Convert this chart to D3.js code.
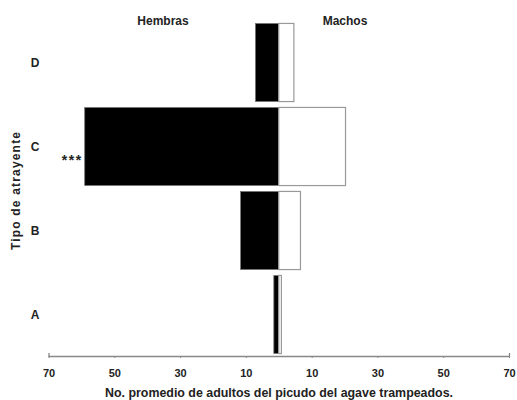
<!DOCTYPE html>
<html>
<head>
<meta charset="utf-8">
<script src="https://cdn.jsdelivr.net/npm/d3@7"></script>
<style>
  body { margin: 0; background: #fff; }
  text { font-family: "Liberation Sans", Arial, sans-serif; font-weight: bold; fill: #222; }
</style>
</head>
<body>
<div id="chart"></div>
<script>

  // categories, top to bottom
  var tipos = ["D", "C", "B", "A"];
  // mean adults trapped
  var hembras = [7.1, 59, 11.6, 1.5];
  var machos = [4.6, 20.3, 6.6, 0.8];
  var marcas = ["", "***", "", ""];
  var tickVals = [-70, -50, -30, -10, 10, 30, 50, 70];

  var width = 517, height = 400;

  var svg = d3.select("#chart")
    .append("svg")
    .attr("width", width)
    .attr("height", height);

  var x = d3.scaleLinear()
    .domain([-70, 70])
    .range([48.5, 509]);

  var y = d3.scaleBand()
    .domain(tipos)
    .range([20.5, 356.5])
    .paddingInner(0.07)
    .paddingOuter(0.035);

  var data = tipos.map(function(t, i) {
    return { tipo: t, h: hembras[i], m: machos[i], mark: marcas[i] };
  });

  //=========================================================================
  // bars
  //=========================================================================
  svg.append("g")
    .selectAll("rect")
    .data(data)
    .enter()
    .append("rect")
    .attr("x", function(d) { return x(-d.h); })
    .attr("y", function(d) { return y(d.tipo); })
    .attr("width", function(d) { return x(0) - x(-d.h); })
    .attr("height", y.bandwidth())
    .attr("fill", "#000")
    .attr("stroke", "#777")
    .attr("stroke-width", 0.8);

  svg.append("g")
    .selectAll("rect")
    .data(data)
    .enter()
    .append("rect")
    .attr("x", x(0))
    .attr("y", function(d) { return y(d.tipo); })
    .attr("width", function(d) { return x(d.m) - x(0); })
    .attr("height", y.bandwidth())
    .attr("fill", "#fff")
    .attr("stroke", "#999")
    .attr("stroke-width", 1.2);

  // significance marks
  svg.append("g")
    .selectAll("text")
    .data(data)
    .enter()
    .append("text")
    .attr("x", function(d) { return x(-d.h) - 2; })
    .attr("y", function(d) { return y(d.tipo) + y.bandwidth() / 2 + 18; })
    .attr("text-anchor", "end")
    .style("font-size", "14px")
    .style("letter-spacing", "1.5px")
    .text(function(d) { return d.mark; });

  //=========================================================================
  // axes
  //=========================================================================
  var xAxis = d3.axisBottom(x)
    .tickValues(tickVals)
    .tickFormat(function(d) { return Math.abs(d); })
    .tickSizeInner(2)
    .tickSizeOuter(-3)
    .tickPadding(11);

  var gx = svg.append("g")
    .attr("transform", "translate(0,356)")
    .call(xAxis);
  gx.select(".domain").attr("stroke", "#888").attr("stroke-width", 1.3);
  gx.selectAll(".tick line").attr("stroke", "#888");
  gx.selectAll(".tick text")
    .style("font-family", "'Liberation Sans', Arial, sans-serif")
    .style("font-weight", "bold")
    .style("font-size", "11px")
    .attr("fill", "#222");

  svg.append("g")
    .selectAll("text")
    .data(tipos)
    .enter()
    .append("text")
    .attr("x", 35)
    .attr("y", function(d) { return y(d) + y.bandwidth() / 2 + 4; })
    .attr("text-anchor", "middle")
    .style("font-size", "12px")
    .text(function(d) { return d; });

  //=========================================================================
  // titles
  //=========================================================================
  svg.append("text")
    .attr("x", 163).attr("y", 25)
    .attr("text-anchor", "middle")
    .style("font-size", "12px")
    .text("Hembras");

  svg.append("text")
    .attr("x", 345).attr("y", 25)
    .attr("text-anchor", "middle")
    .style("font-size", "12px")
    .text("Machos");

  svg.append("text")
    .attr("x", 279).attr("y", 397)
    .attr("text-anchor", "middle")
    .attr("textLength", 348)
    .attr("lengthAdjust", "spacingAndGlyphs")
    .style("font-size", "12px")
    .text("No. promedio de adultos del picudo del agave trampeados.");

  svg.append("text")
    .attr("transform", "translate(20,191) rotate(-90)")
    .attr("text-anchor", "middle")
    .attr("textLength", 118)
    .attr("lengthAdjust", "spacing")
    .style("font-size", "12px")
    .text("Tipo de atrayente");

</script>
</body>
</html>
